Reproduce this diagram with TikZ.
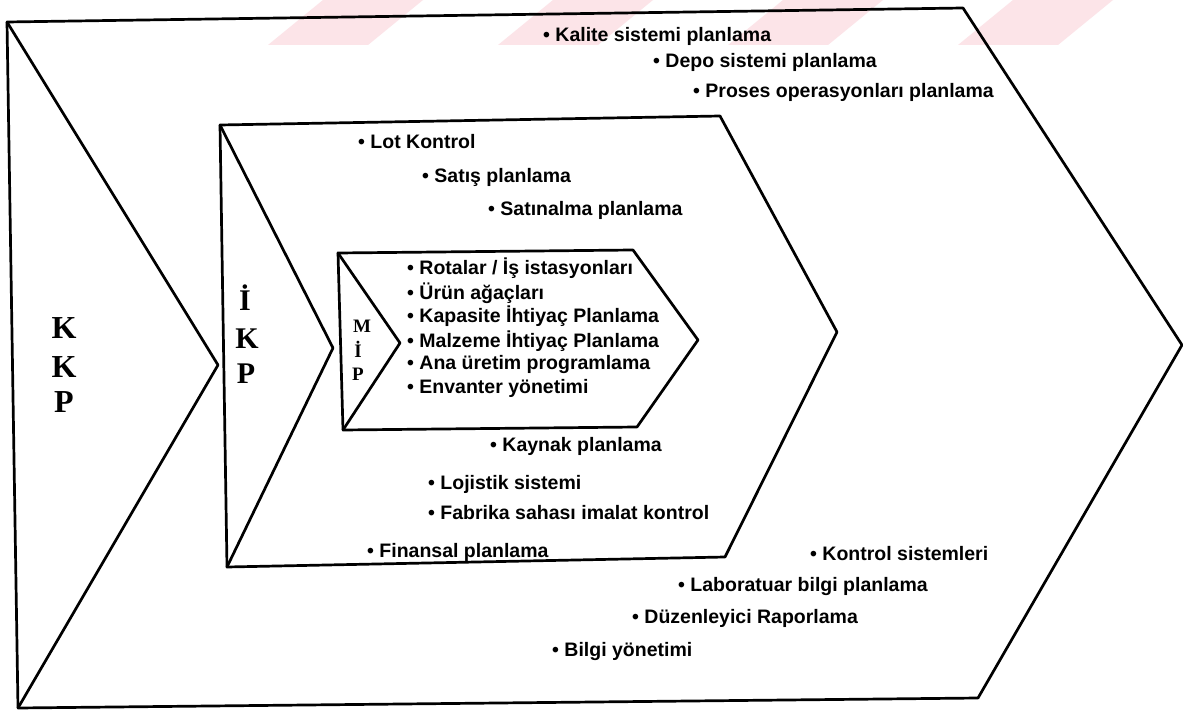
\documentclass[tikz,border=0pt]{standalone}
\usepackage{fontspec}
\setmainfont{Liberation Serif}
\newfontfamily\itemfont{Liberation Sans}
\definecolor{wmpink}{RGB}{252,228,232}
\begin{document}
\begin{tikzpicture}[x=1pt,y=-1pt,
  frame/.style={draw=black,line width=2.7pt,line join=round,line cap=round},
  item/.style={font=\itemfont\bfseries\fontsize{19.5}{23}\selectfont,anchor=base west,inner sep=0pt},
  bigletter/.style={font=\bfseries\fontsize{32}{32}\selectfont,anchor=base,inner sep=0pt},
  midletter/.style={font=\bfseries\fontsize{30}{30}\selectfont,anchor=base,inner sep=0pt},
  smallletter/.style={font=\bfseries\fontsize{19}{19}\selectfont,anchor=base,inner sep=0pt}]
\useasboundingbox (0,0) rectangle (1183,711);
\fill[white] (0,0) rectangle (1183,711);

% faint diagonal stripes along the top edge
\begin{scope}
  \clip (0,0) rectangle (1183,45);
  \foreach \s in {268,498,728,958,1188}
    \fill[wmpink] (\s,45) -- (\s+100,45) -- (\s+155,0) -- (\s+55,0) -- cycle;
\end{scope}

% corner points of the three chevrons
\coordinate (oTL) at (7,22);
\coordinate (oTR) at (963,8);
\coordinate (oTip) at (1182,345);
\coordinate (oBR) at (978,698);
\coordinate (oBL) at (18,708);
\coordinate (oN) at (218,365);

\coordinate (mTL) at (220,125);
\coordinate (mTR) at (720,116);
\coordinate (mTip) at (837,332);
\coordinate (mBR) at (725,557);
\coordinate (mBL) at (227,567);
\coordinate (mN) at (333,348);

\coordinate (iTL) at (338,253);
\coordinate (iTR) at (633,250);
\coordinate (iTip) at (698,340);
\coordinate (iBR) at (637,427);
\coordinate (iBL) at (343,430);
\coordinate (iN) at (400,343);

% outer chevron (KKP)
\draw[frame] (oTL) -- (oTR) -- (oTip) -- (oBR) -- (oBL) -- cycle;
\draw[frame] (oTL) -- (oN) -- (oBL);
% middle chevron (IKP)
\draw[frame] (mTL) -- (mTR) -- (mTip) -- (mBR) -- (mBL) -- cycle;
\draw[frame] (mTL) -- (mN) -- (mBL);
% inner chevron (MIP)
\draw[frame] (iTL) -- (iTR) -- (iTip) -- (iBR) -- (iBL) -- cycle;
\draw[frame] (iTL) -- (iN) -- (iBL);

% vertical abbreviations
\node[bigletter] (kkp1) at (64,338) {K};
\node[bigletter] (kkp2) at (64,377) {K};
\node[bigletter] (kkp3) at (64,412) {P};

\node[midletter] (ikp1) at (245,310) {İ};
\node[midletter] (ikp2) at (247,348) {K};
\node[midletter] (ikp3) at (246,383) {P};

\node[smallletter] (mip1) at (362,332) {M};
\node[smallletter] (mip2) at (358,357) {İ};
\node[smallletter] (mip3) at (358,380) {P};

% outer ring of items
\node[item] (kalite) at (543,42) {• Kalite sistemi planlama};
\node[item] (depo) at (653,68) {• Depo sistemi planlama};
\node[item] (proses) at (693,98) {• Proses operasyonları planlama};
\node[item] (kontrol) at (810,560) {• Kontrol sistemleri};
\node[item] (lab) at (678,591) {• Laboratuar bilgi planlama};
\node[item] (duzen) at (632,623) {• Düzenleyici Raporlama};
\node[item] (bilgi) at (552,656) {• Bilgi yönetimi};

% middle ring of items
\node[item] (lot) at (358,149) {• Lot Kontrol};
\node[item] (satis) at (422,183) {• Satış planlama};
\node[item] (satinalma) at (488,216) {• Satınalma planlama};
\node[item] (kaynak) at (490,451) {• Kaynak planlama};
\node[item] (lojistik) at (428,489) {• Lojistik sistemi};
\node[item] (fabrika) at (428,519) {• Fabrika sahası imalat kontrol};
\node[item] (finansal) at (367,557) {• Finansal planlama};

% inner list
\node[item] (rota) at (407,275) {• Rotalar / İş istasyonları};
\node[item] (urun) at (407,299) {• Ürün ağaçları};
\node[item] (kapasite) at (407,323) {• Kapasite İhtiyaç Planlama};
\node[item] (malzeme) at (407,347) {• Malzeme İhtiyaç Planlama};
\node[item] (ana) at (407,369) {• Ana üretim programlama};
\node[item] (envanter) at (407,393) {• Envanter yönetimi};
\end{tikzpicture}
\end{document}
